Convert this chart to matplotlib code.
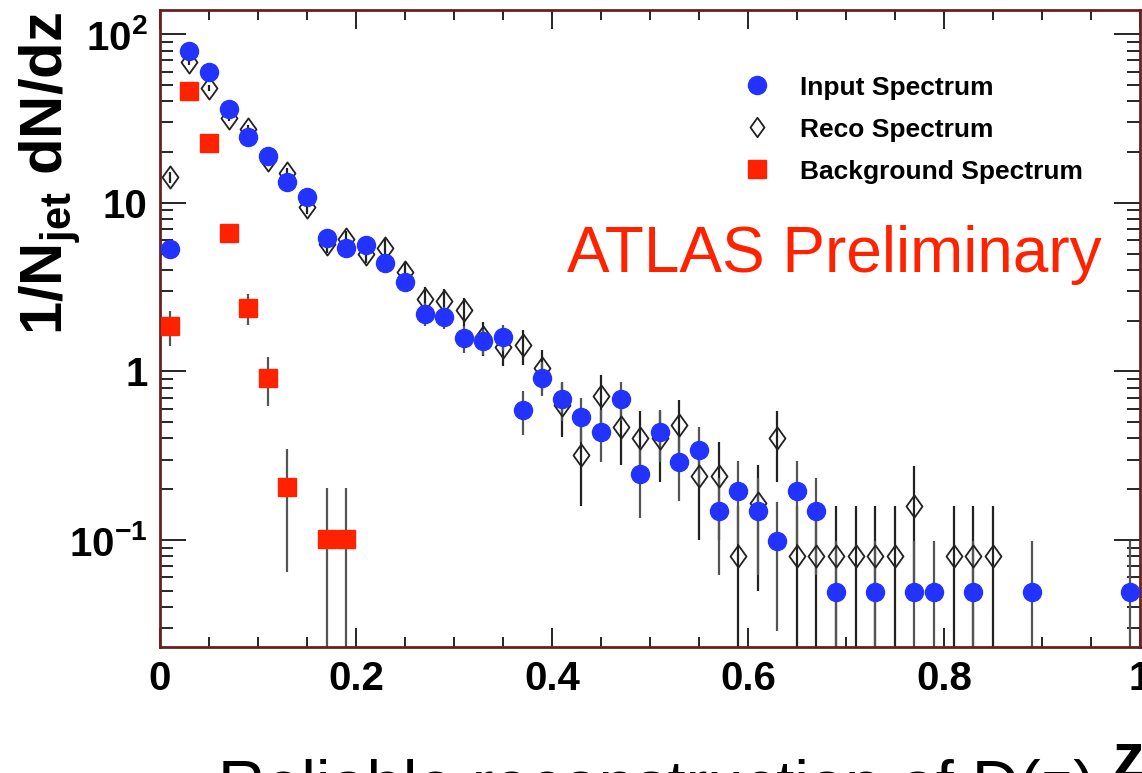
import numpy as np
import matplotlib
matplotlib.use("Agg")
import matplotlib.pyplot as plt
from matplotlib.lines import Line2D
from matplotlib.path import Path
from matplotlib.ticker import MultipleLocator, LogLocator, FixedLocator, NullFormatter

plt.rcParams['font.family'] = ['Liberation Sans', 'DejaVu Sans']
plt.rcParams['mathtext.fontset'] = 'custom'
plt.rcParams['mathtext.rm'] = 'Liberation Sans'
plt.rcParams['mathtext.bf'] = 'Liberation Sans:bold'
plt.rcParams['mathtext.it'] = 'Liberation Sans:italic'

# input spectrum (blue circles)
z_input = [0.01, 0.03, 0.05, 0.07, 0.09, 0.11, 0.13, 0.15, 0.17, 0.19,
           0.21, 0.23, 0.25, 0.27, 0.29, 0.31, 0.33, 0.35, 0.37, 0.39,
           0.41, 0.43, 0.45, 0.47, 0.49, 0.51, 0.53, 0.55, 0.57, 0.59,
           0.61, 0.63, 0.65, 0.67, 0.69, 0.73, 0.77, 0.79, 0.83, 0.89, 0.99]
input_val = [5.3, 79, 60, 36, 24.5, 19, 13.3, 10.8, 6.2, 5.4,
             5.6, 4.4, 3.4, 2.2, 2.1, 1.57, 1.52, 1.6, 0.59, 0.92,
             0.69, 0.54, 0.44, 0.69, 0.245, 0.44, 0.29, 0.34, 0.148, 0.195,
             0.148, 0.099, 0.195, 0.148, 0.049, 0.049, 0.049, 0.049, 0.049, 0.049, 0.049]
input_err = [0.51, 2.0, 1.7, 1.3, 1.1, 0.97, 0.81, 0.73, 0.55, 0.52,
             0.53, 0.47, 0.41, 0.33, 0.32, 0.28, 0.27, 0.28, 0.17, 0.21,
             0.18, 0.16, 0.15, 0.18, 0.11, 0.15, 0.12, 0.13, 0.086, 0.10,
             0.086, 0.07, 0.10, 0.086, 0.049, 0.049, 0.049, 0.049, 0.049, 0.049, 0.049]

# reco spectrum (open diamonds)
z_reco = [0.01, 0.03, 0.05, 0.07, 0.09, 0.11, 0.13, 0.15, 0.17, 0.19,
          0.21, 0.23, 0.25, 0.27, 0.29, 0.31, 0.33, 0.35, 0.37, 0.39,
          0.41, 0.43, 0.45, 0.47, 0.49, 0.51, 0.53, 0.55, 0.57, 0.59,
          0.61, 0.63, 0.65, 0.67, 0.69, 0.71, 0.73, 0.75, 0.77, 0.81, 0.83, 0.85]
reco_val = [14.2, 68, 48, 32, 27.5, 18, 15, 9.4, 5.7, 6.1,
            5.0, 5.4, 3.9, 2.7, 2.6, 2.3, 1.6, 1.4, 1.43, 1.05,
            0.63, 0.32, 0.71, 0.47, 0.40, 0.40, 0.48, 0.24, 0.24, 0.08,
            0.165, 0.40, 0.08, 0.08, 0.08, 0.08, 0.08, 0.08, 0.16, 0.08, 0.08, 0.08]
reco_err = [1.07, 2.3, 1.96, 1.6, 1.48, 1.2, 1.1, 0.87, 0.68, 0.70,
            0.63, 0.66, 0.56, 0.46, 0.46, 0.43, 0.36, 0.33, 0.34, 0.29,
            0.22, 0.16, 0.24, 0.19, 0.18, 0.18, 0.20, 0.14, 0.14, 0.08,
            0.115, 0.18, 0.08, 0.08, 0.08, 0.08, 0.08, 0.08, 0.113, 0.08, 0.08, 0.08]

# background spectrum (red squares)
z_bkg = [0.01, 0.03, 0.05, 0.07, 0.09, 0.11, 0.13, 0.17, 0.19]
bkg_val = [1.85, 46, 22.5, 6.6, 2.37, 0.92, 0.205, 0.102, 0.102]
bkg_err = [0.43, 2.1, 1.5, 0.8, 0.49, 0.3, 0.14, 0.102, 0.102]

x_ticks = [0, 0.2, 0.4, 0.6, 0.8, 1.0]
x_ticklabels = ['0', '0.2', '0.4', '0.6', '0.8', '1']
y_ticks = [0.1, 1, 10, 100]
y_ticklabels = [r'$\mathbf{10^{-1}}$', '1', '10', r'$\mathbf{10^{2}}$']

blue = '#2233ff'
red = '#ff2200'

fig = plt.figure(figsize=(11.42, 7.73), dpi=100)
ax = fig.add_axes([0.1401, 0.163, 0.858, 0.824])
ax.set_yscale('log')


def draw(z, v, e, ecol, **kw):
    v = np.array(v)
    e = np.array(e)
    lo = np.minimum(e, v * 0.999)
    ax.errorbar(z, v, yerr=[lo, e], fmt='none', ecolor=ecol, elinewidth=1.6,
                capsize=0, zorder=2)
    ax.plot(z, v, linestyle='none', zorder=3, **kw)


# ROOT style open diamond, a bit narrower than tall
rhomb = Path([(0, 1), (0.72, 0), (0, -1), (-0.72, 0), (0, 1)],
             [Path.MOVETO, Path.LINETO, Path.LINETO, Path.LINETO, Path.CLOSEPOLY])
diamond = dict(marker=rhomb, markersize=16, markerfacecolor='none',
               markeredgecolor='#222222', markeredgewidth=1.3)
draw(z_reco, reco_val, reco_err, '#222222', **diamond)
draw(z_input, input_val, input_err, '#555555', marker='o', markersize=13,
     markerfacecolor=blue, markeredgecolor=blue)
draw(z_bkg, bkg_val, bkg_err, '#555555', marker='s', markersize=12.5,
     markerfacecolor=red, markeredgecolor=red)

ax.set_xlim(0, 1)
ax.set_ylim(0.0232, 139)

ax.xaxis.set_major_locator(FixedLocator(x_ticks))
ax.xaxis.set_minor_locator(MultipleLocator(0.05))
ax.set_xticklabels(x_ticklabels)
ax.yaxis.set_major_locator(FixedLocator(y_ticks))
ax.yaxis.set_minor_locator(LogLocator(base=10, subs=np.arange(2, 10)))
ax.yaxis.set_minor_formatter(NullFormatter())
ax.set_yticklabels(y_ticklabels)

ax.tick_params(axis='both', which='both', direction='in', top=True, right=True,
               colors='black', width=1.2)
ax.tick_params(axis='x', which='major', length=14, pad=9)
ax.tick_params(axis='x', which='minor', length=7)
ax.tick_params(axis='y', which='major', length=19, pad=9)
ax.tick_params(axis='y', which='minor', length=9.5)
for lab in ax.get_xticklabels() + ax.get_yticklabels():
    lab.set_fontsize(29)
    lab.set_fontweight('bold')

for s in ax.spines.values():
    s.set_color('#6b1f1f')
    s.set_linewidth(2)

handles = [
    Line2D([], [], linestyle='none', marker='o', markersize=13, color=blue),
    Line2D([], [], linestyle='none', **dict(diamond, markersize=14)),
    Line2D([], [], linestyle='none', marker='s', markersize=12.5, color=red),
]
ax.legend(handles, ['Input Spectrum', 'Reco Spectrum', 'Background Spectrum'],
          loc='upper left', bbox_to_anchor=(0.598, 0.897), frameon=False,
          borderpad=0, borderaxespad=0, handlelength=0.85, handletextpad=1.2,
          labelspacing=0.68, prop={'weight': 'bold', 'size': 19})

ax.text(0.415, 0.589, 'ATLAS Preliminary', transform=ax.transAxes, color=red,
        fontsize=46, va='baseline', ha='left')

fig.text(0.044, 0.776, r'$\mathbf{1/N_{jet}\ dN/dz}$', rotation=90,
         ha='center', va='center', fontsize=43)

fig.text(0.974, -0.006, 'z', fontsize=46, fontweight='bold', va='baseline', ha='left')
fig.text(0.191, -0.043, 'Reliable reconstruction of D(z)', fontsize=47,
         va='baseline', ha='left')

fig.savefig('out.png', dpi=100)
